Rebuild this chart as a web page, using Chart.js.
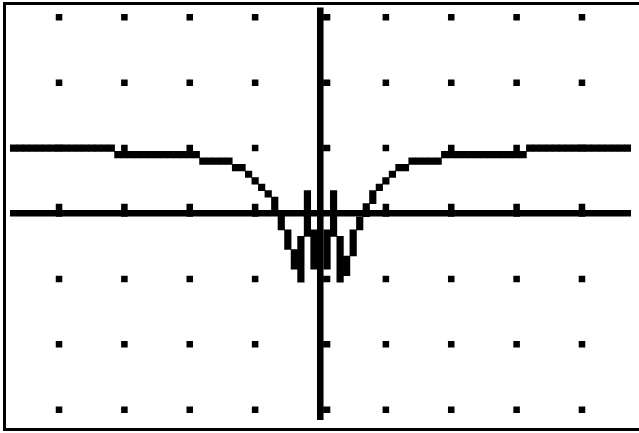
<!DOCTYPE html>
<html><head><meta charset="utf-8">
<script src="https://cdn.jsdelivr.net/npm/chart.js@4/dist/chart.umd.min.js"></script>
<style>
html,body{margin:0;padding:0;background:#fff;overflow:hidden}
#wrap{position:relative;width:639px;height:433px;background:#fff}
#frame{position:absolute;left:3px;top:2px;width:660px;height:423px;border-left:3px solid #000;border-top:3px solid #000;border-bottom:3px solid #000;pointer-events:none}
canvas{position:absolute;left:0;top:0}
</style></head><body>
<div id="wrap"><canvas id="c" width="639" height="433" style="width:639px;height:433px"></canvas><div id="frame"></div></div>
<script>
// x of each calculator column (ZDecimal window)
const xValues = [-4.7,-4.6,-4.5,-4.4,-4.3,-4.2,-4.1,-4.0,-3.9,-3.8,-3.7,-3.6,-3.5,-3.4,-3.3,-3.2,
  -3.1,-3.0,-2.9,-2.8,-2.7,-2.6,-2.5,-2.4,-2.3,-2.2,-2.1,-2.0,-1.9,-1.8,-1.7,-1.6,-1.5,-1.4,
  -1.3,-1.2,-1.1,-1.0,-0.9,-0.8,-0.7,-0.6,-0.5,-0.4,-0.3,-0.2,-0.1,0,
  0.1,0.2,0.3,0.4,0.5,0.6,0.7,0.8,0.9,1.0,1.1,1.2,1.3,1.4,1.5,1.6,1.7,1.8,1.9,
  2.0,2.1,2.2,2.3,2.4,2.5,2.6,2.7,2.8,2.9,3.0,3.1,3.2,3.3,3.4,3.5,3.6,3.7,3.8,3.9,
  4.0,4.1,4.2,4.3,4.4,4.5,4.6,4.7];
// plotted value (pixel-rounded) read for each column; none at x = 0
const yValues = [1.0,1.0,1.0,1.0,1.0,1.0,1.0,1.0,1.0,1.0,1.0,1.0,1.0,1.0,1.0,1.0,
  0.9,0.9,0.9,0.9,0.9,0.9,0.9,0.9,0.9,0.9,0.9,0.9,0.9,
  0.8,0.8,0.8,0.8,0.8,
  0.7,0.7,0.6,0.5,0.4,0.3,0.1,-0.1,-0.4,-0.8,-1.0,0.3,-0.8,
  null,
  -0.8,0.3,-1.0,-0.8,-0.4,-0.1,0.1,0.3,0.4,0.5,0.6,0.7,0.7,
  0.8,0.8,0.8,0.8,0.8,
  0.9,0.9,0.9,0.9,0.9,0.9,0.9,0.9,0.9,0.9,0.9,0.9,0.9,
  1.0,1.0,1.0,1.0,1.0,1.0,1.0,1.0,1.0,1.0,1.0,1.0,1.0,1.0,1.0,1.0];
const xTicks = [-4,-3,-2,-1,0,1,2,3,4];
const yTicks = [-3,-2,-1,0,1,2,3];

const PX = 6.54;          // one calculator pixel on screen
const STEP = 0.1;         // units per calculator pixel

// connected-mode: each column lights a run of pixels linking to its neighbours
const rows = yValues.map(v => v === null ? null : Math.round(v / STEP));
const lo = rows.slice(), hi = rows.slice();
for (let c = 0; c < rows.length - 1; c++) {
  const a = rows[c], b = rows[c + 1];
  if (a === null || b === null) continue;
  const d = Math.abs(b - a), s = Math.sign(b - a);
  for (let k = 0; k <= d; k++) {
    const r = a + s * k;
    const t = (d === 0 || k / d < 0.5) ? c : c + 1;
    lo[t] = Math.min(lo[t], r); hi[t] = Math.max(hi[t], r);
  }
}
const curve = [];
rows.forEach((r, i) => {
  if (r !== null) curve.push({x: xValues[i], y: [(lo[i] - 0.5) * STEP, (hi[i] + 0.5) * STEP]});
});

const dots = [];
xTicks.forEach(x => yTicks.forEach(y => dots.push({x, y})));
const tickMarks = [];
xTicks.forEach(x => { if (x !== 0) tickMarks.push({x, y: STEP}); });
yTicks.forEach(y => { if (y !== 0) tickMarks.push({x: STEP, y}); });

const axisOpts = (min, max) => ({
  type: 'linear', min, max, offset: false,
  afterBuildTicks: s => { s.ticks = [{value: 0}]; },
  ticks: {display: false},
  grid: {display: true, color: '#000', lineWidth: PX, drawTicks: false, offset: false},
  border: {display: false}
});

new Chart(document.getElementById('c'), {
  type: 'bar',
  data: {
    datasets: [
      {type: 'bar', data: curve, backgroundColor: '#000', borderWidth: 0,
       barPercentage: 1, categoryPercentage: 1},
      {type: 'scatter', data: dots.concat(tickMarks), pointStyle: 'rect',
       pointRadius: PX / Math.SQRT2, pointHoverRadius: PX / Math.SQRT2,
       backgroundColor: '#000', borderWidth: 0, showLine: false}
    ]
  },
  options: {
    responsive: false, animation: false, devicePixelRatio: 1,
    events: [],
    layout: {padding: {left: 10, right: 8, top: 7.5, bottom: 13.5}},
    plugins: {legend: {display: false}, tooltip: {enabled: false}},
    scales: {
      x: axisOpts(-4.75, 4.75),
      y: axisOpts(-3.15, 3.15)
    }
  }
});
</script>
</body></html>
